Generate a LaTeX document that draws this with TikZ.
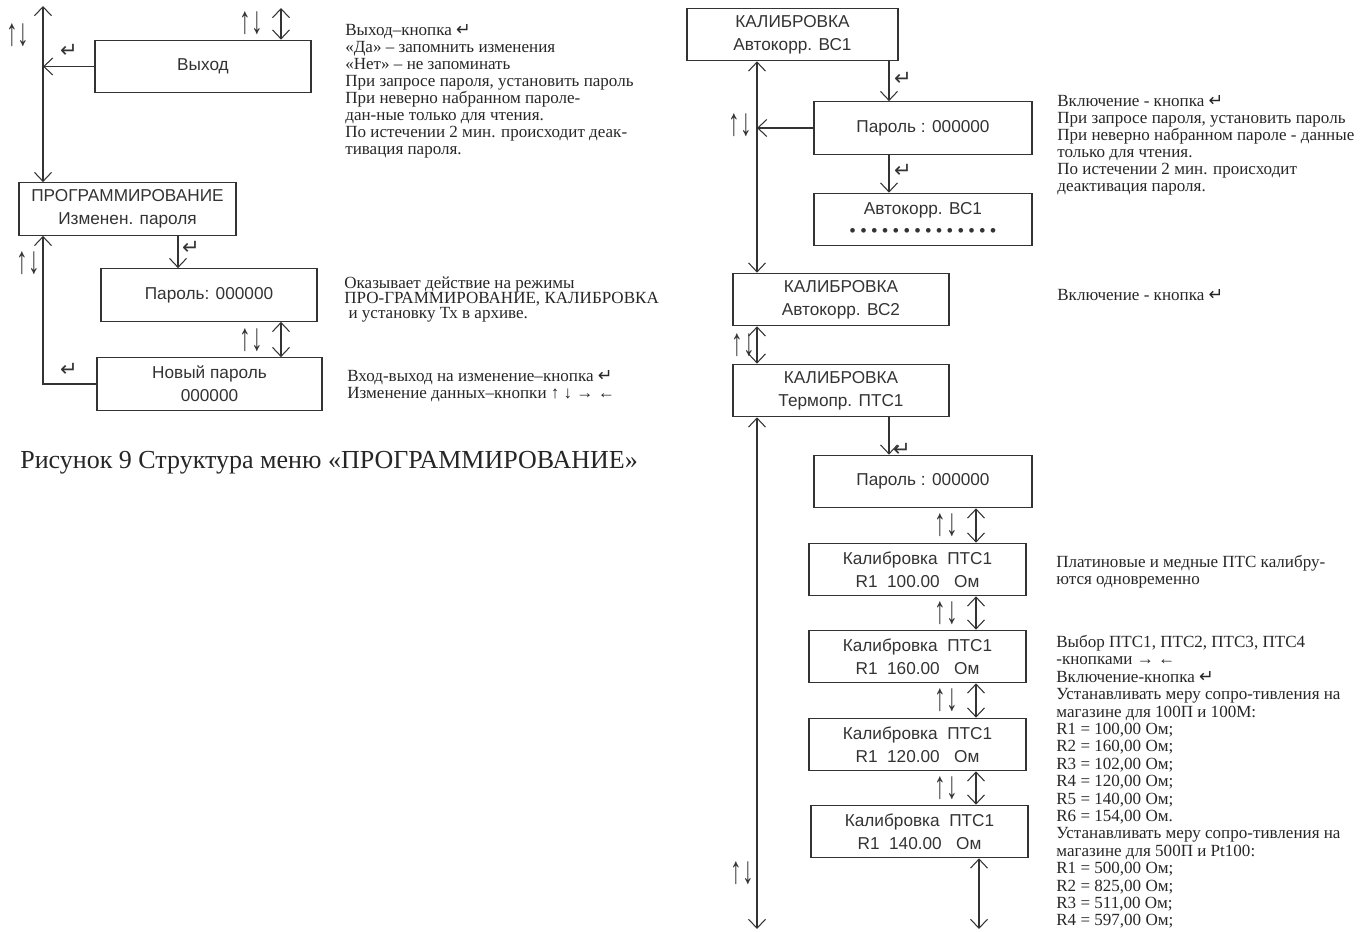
\documentclass[tikz,border=0pt]{standalone}
\usepackage{fontspec}
\setmainfont{Liberation Serif}
\setsansfont{Liberation Sans}
\newfontfamily\symfont{DejaVu Sans}
\usetikzlibrary{arrows.meta}
\definecolor{ink}{gray}{0.2}
\newcommand{\retsym}{{\symfont\fontsize{10}{8}\selectfont ↵}}
\newcommand{\updnsym}{\scalebox{0.6}[1]{↑↓}}
\tikzset{
  menubox/.style={draw=ink, line width=0.7pt, minimum width=4.32cm, minimum height=1.05cm, inner sep=0pt, align=center, text=ink, font=\sffamily\fontsize{9.8}{13}\selectfont},
  note/.style={anchor=north west, inner sep=0pt, align=left, text=black!85, font=\fontsize{9.7}{9.7}\selectfont},
  arr/.style={draw=ink, line width=0.6pt, -{Straight Barb[length=1.8mm, width=3.4mm]}},
  dblarr/.style={arr, {Straight Barb[length=1.8mm, width=3.4mm]}-{Straight Barb[length=1.8mm, width=3.4mm]}},
  updn/.style={inner sep=0pt, text=ink, font=\fontsize{22}{22}\selectfont},
  ret/.style={inner sep=0pt, text=ink, font=\symfont\fontsize{12}{12}\selectfont}
}
\begin{document}
\begin{tikzpicture}[x=0.02cm, y=-0.02cm]
\useasboundingbox (0,0) rectangle (1360,932);

% left menu
\node[menubox] (vyhod) at (203,66.5) {Выход};
\node[menubox, minimum width=4.34cm] (prog) at (127.5,209) {ПРОГРАММИРОВАНИЕ\\Изменен. пароля};
\node[menubox] (parL) at (209,295) {Пароль: 000000};
\node[menubox, minimum width=4.5cm] (newpw) at (209.5,384) {Новый пароль\\000000};

\coordinate (topL) at (43,6);
\coordinate (vtopL) at (281,8);
\coordinate (xL) at (178,0);
\draw[dblarr] (topL) -- (prog.north -| topL);
\draw[arr] (vyhod.west) -- (vyhod.west -| topL);
\draw[dblarr] (vyhod.north -| vtopL) -- (vtopL);
\draw[arr] (prog.south -| xL) -- (parL.north -| xL);
\draw[dblarr] (parL.south -| vtopL) -- (newpw.north -| vtopL);
\draw[arr] (newpw.west) -| (prog.south -| topL);

\node[updn] (udL1) at (18,35) {\updnsym};
\node[updn] (udL2) at (251,23) {\updnsym};
\node[updn] (udL3) at (28,263) {\updnsym};
\node[updn] (udL4) at (251,340) {\updnsym};
\node[ret] (retL1) at (69,51) {↵};
\node[ret] (retL2) at (191,248) {↵};
\node[ret] (retL3) at (69,370) {↵};

\node[note] (noteL1) at (345,24) {Выход–кнопка \retsym\\«Да» – запомнить изменения\\«Нет» – не запоминать\\При запросе пароля, установить пароль\\При неверно набранном пароле-\\дан-ные только для чтения.\\По истечении 2 мин. происходит деак-\\тивация пароля.};
\node[note, font=\fontsize{9.7}{8.6}\selectfont] (noteL2) at (344,276) {Оказывает действие на режимы\\ПРО-ГРАММИРОВАНИЕ, КАЛИБРОВКА\\\ и установку Тх в архиве.};
\node[note] (noteL3) at (347,370) {Вход-выход на изменение–кнопка \retsym\\Изменение данных–кнопки ↑ ↓ → ←};

\node[anchor=west, inner sep=0pt, text=black!85, font=\fontsize{14.8}{14.8}\selectfont] (caption) at (20,463) {Рисунок 9 Структура меню «ПРОГРАММИРОВАНИЕ»};

% right menu
\node[menubox, minimum width=4.22cm] (kal1) at (792.5,34.5) {КАЛИБРОВКА\\Автокорр. ВС1};
\node[menubox, minimum width=4.36cm] (parR1) at (923,128) {Пароль : 000000};
\node[menubox, minimum width=4.36cm] (auto1) at (923,219.5) {Автокорр. ВС1\\• • • • • • • • • • • • • •};
\node[menubox] (kal2) at (841,299.5) {КАЛИБРОВКА\\Автокорр. ВС2};
\node[menubox] (kal3) at (841,390.5) {КАЛИБРОВКА\\Термопр. ПТС1};
\node[menubox, minimum width=4.36cm] (parR2) at (923,481.5) {Пароль : 000000};
\node[menubox, minimum width=4.34cm] (cal1) at (917.5,569.5) {Калибровка\ \ ПТС1\\R1\ \ 100.00\ \ \ Ом};
\node[menubox, minimum width=4.34cm] (cal2) at (917.5,656.5) {Калибровка\ \ ПТС1\\R1\ \ 160.00\ \ \ Ом};
\node[menubox, minimum width=4.34cm] (cal3) at (917.5,744.5) {Калибровка\ \ ПТС1\\R1\ \ 120.00\ \ \ Ом};
\node[menubox, minimum width=4.34cm] (cal4) at (919.5,831.5) {Калибровка\ \ ПТС1\\R1\ \ 140.00\ \ \ Ом};

\coordinate (xR) at (757,0);
\coordinate (xR2) at (889,0);
\coordinate (xR3) at (976,0);
\coordinate (botR) at (757,929);
\coordinate (botR2) at (979,929);
\draw[dblarr] (kal1.south -| xR) -- (kal2.north -| xR);
\draw[arr] (parR1.west) -- (parR1.west -| xR);
\draw[arr] (kal1.south -| xR2) -- (parR1.north -| xR2);
\draw[arr] (parR1.south -| xR2) -- (auto1.north -| xR2);
\draw[dblarr] (kal2.south -| xR) -- (kal3.north -| xR);
\draw[arr] (kal3.south -| xR2) -- (parR2.north -| xR2);
\draw[dblarr] (kal3.south -| xR) -- (botR);
\draw[dblarr] (parR2.south -| xR3) -- (cal1.north -| xR3);
\draw[dblarr] (cal1.south -| xR3) -- (cal2.north -| xR3);
\draw[dblarr] (cal2.south -| xR3) -- (cal3.north -| xR3);
\draw[dblarr] (cal3.south -| xR3) -- (cal4.north -| xR3);
\draw[dblarr] (cal4.south -| botR2) -- (botR2);

\node[ret] (retR1) at (903,79) {↵};
\node[ret] (retR2) at (903,171) {↵};
\node[ret] (retR3) at (902,450) {↵};
\node[updn] (udR1) at (740,125) {\updnsym};
\node[updn] (udR2) at (743,345) {\updnsym};
\node[updn] (udR3) at (742,873) {\updnsym};
\node[updn] (udR4) at (946,525) {\updnsym};
\node[updn] (udR5) at (946,613) {\updnsym};
\node[updn] (udR6) at (946,700) {\updnsym};
\node[updn] (udR7) at (946,788) {\updnsym};

\node[note] (noteR1) at (1057,95) {Включение - кнопка \retsym\\При запросе пароля, установить пароль\\При неверно набранном пароле - данные\\только для чтения.\\По истечении 2 мин. происходит\\деактивация пароля.};
\node[note] (noteR2) at (1057,289) {Включение - кнопка \retsym};
\node[note] (noteR3) at (1056,555) {Платиновые и медные ПТС калибру-\\ются одновременно};
\node[note, font=\fontsize{9.7}{9.9}\selectfont] (noteR4) at (1056,635) {Выбор ПТС1, ПТС2, ПТС3, ПТС4\\-кнопками → ←\\Включение-кнопка \retsym\\Устанавливать меру сопро-тивления на\\магазине для 100П и 100М:\\R1 = 100,00 Ом;\\R2 = 160,00 Ом;\\R3 = 102,00 Ом;\\R4 = 120,00 Ом;\\R5 = 140,00 Ом;\\R6 = 154,00 Ом.\\Устанавливать меру сопро-тивления на\\магазине для 500П и Pt100:\\R1 = 500,00 Ом;\\R2 = 825,00 Ом;\\R3 = 511,00 Ом;\\R4 = 597,00 Ом;};
\end{tikzpicture}
\end{document}
